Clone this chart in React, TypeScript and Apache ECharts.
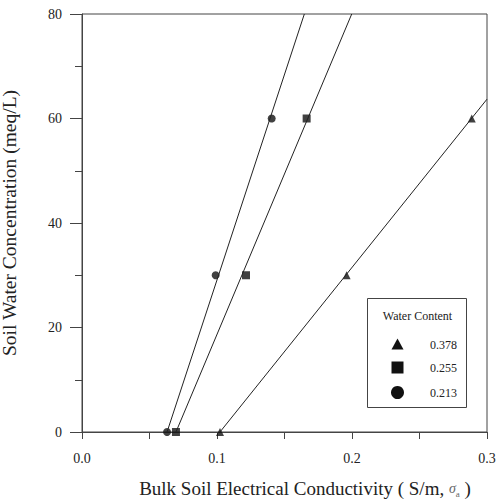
import React, { useEffect, useRef } from "react";
import * as echarts from "echarts";

const concentrations = [0, 30, 60];
const circleX = [0.063, 0.099, 0.1405];
const squareX = [0.0696, 0.1215, 0.1664];
const triangleX = [0.1022, 0.196, 0.2887];

const circleFit = [[0.063, 0], [0.1647, 80]];
const squareFit = [[0.0696, 0], [0.1998, 80]];
const triangleFit = [[0.1022, 0], [0.3, 63.7]];

const legendTitle = "Water Content";
const legendLabels = ["0.378", "0.255", "0.213"];

const FONT = "'Liberation Serif', 'DejaVu Serif', serif";
const INK = "#222";

function pts(xs: number[]) {
  return xs.map((x, i) => [x, concentrations[i]]);
}

export default function App() {
  const ref = useRef<HTMLDivElement>(null);
  useEffect(() => {
    if (!ref.current) return;
    const chart = echarts.init(ref.current, undefined, { renderer: "svg" });
    const lineStyle = { color: INK, width: 1 };
    const lx = 367, ly = 298;
    chart.setOption({
      animation: false,
      backgroundColor: "#fff",
      grid: {
        left: 82, right: 10, top: 14, bottom: 69,
        outerBoundsMode: "none",
        containLabel: false,
        show: true, borderColor: "#444", borderWidth: 1,
      },
      xAxis: {
        type: "value", min: 0, max: 0.3, interval: 0.1,
        axisLine: { lineStyle: { color: "#444" } },
        axisTick: { length: 7, lineStyle: { color: "#444" } },
        minorTick: { show: true, splitNumber: 2, length: 7, lineStyle: { color: "#444" } },
        splitLine: { show: false },
        axisLabel: {
          margin: 19, color: INK, fontFamily: FONT, fontSize: 14,
          formatter: (v: number) => v.toFixed(1),
        },
        name: "Bulk Soil Electrical Conductivity ( S/m, {sig|σ}{sub|a} )",
        nameLocation: "middle",
        nameGap: 47,
        nameTextStyle: {
          color: INK, fontFamily: FONT, fontSize: 19, padding: [0, 0, 0, 41],
          rich: {
            sig: { fontFamily: FONT, fontStyle: "italic", fontSize: 14, color: "#666" },
            sub: { fontFamily: FONT, fontSize: 9, color: "#666", verticalAlign: "bottom", padding: [6, 0, 0, 0] },
          },
        },
      },
      yAxis: {
        type: "value", min: 0, max: 80, interval: 20,
        axisLine: { show: true, lineStyle: { color: "#444" } },
        axisTick: { show: true, length: 12, lineStyle: { color: "#444" } },
        minorTick: { show: true, splitNumber: 2, length: 7, lineStyle: { color: "#444" } },
        splitLine: { show: false },
        axisLabel: { margin: 20, color: INK, fontFamily: FONT, fontSize: 14 },
        name: "Soil Water Concentration (meq/L)",
        nameLocation: "middle",
        nameGap: 63,
        nameTextStyle: { color: INK, fontFamily: FONT, fontSize: 19.5 },
      },
      series: [
        { type: "line", data: circleFit, symbol: "none", lineStyle, silent: true },
        { type: "line", data: squareFit, symbol: "none", lineStyle, silent: true },
        { type: "line", data: triangleFit, symbol: "none", lineStyle, silent: true },
        { type: "scatter", data: pts(circleX), symbol: "circle", symbolSize: 8, itemStyle: { color: "#111" } },
        { type: "scatter", data: pts(squareX), symbol: "rect", symbolSize: 8, itemStyle: { color: "#111" } },
        { type: "scatter", data: pts(triangleX), symbol: "triangle", symbolSize: 8, itemStyle: { color: "#111" } },
      ],
      graphic: [
        {
          type: "group", left: lx, top: ly,
          children: [
            { type: "rect", shape: { x: 0, y: 0, width: 99, height: 109 }, style: { fill: "#fff", stroke: "#444", lineWidth: 1 } },
            { type: "text", x: 50, y: 17, style: { text: legendTitle, font: `12px ${FONT}`, fill: INK, align: "center", verticalAlign: "middle" } },
            { type: "polygon", shape: { points: [[30, 40], [36, 51], [24, 51]] }, style: { fill: "#111" } },
            { type: "rect", shape: { x: 24, y: 63, width: 12, height: 12 }, style: { fill: "#111" } },
            { type: "circle", shape: { cx: 30, cy: 94, r: 6.5 }, style: { fill: "#111" } },
            { type: "text", x: 76, y: 46, style: { text: legendLabels[0], font: `12px ${FONT}`, fill: INK, align: "center", verticalAlign: "middle" } },
            { type: "text", x: 76, y: 69, style: { text: legendLabels[1], font: `12px ${FONT}`, fill: INK, align: "center", verticalAlign: "middle" } },
            { type: "text", x: 76, y: 94, style: { text: legendLabels[2], font: `12px ${FONT}`, fill: INK, align: "center", verticalAlign: "middle" } },
          ],
        },
      ],
    });
    return () => chart.dispose();
  }, []);
  return <div ref={ref} style={{ width: 497, height: 501, position: "absolute", left: 0, top: 0 }} />;
}
